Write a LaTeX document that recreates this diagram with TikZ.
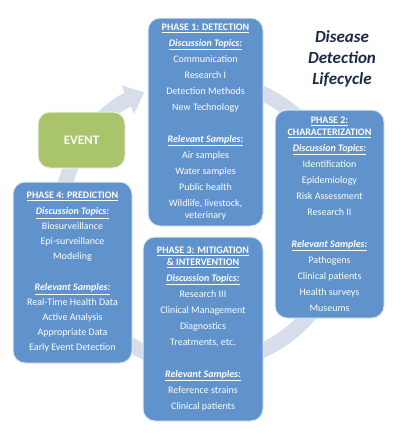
\documentclass[tikz,border=0pt]{standalone}
\usepackage{fontspec}
\setmainfont{Carlito}
\usetikzlibrary{
    positioning,
    arrows.meta
}
\definecolor{phaseblue}{RGB}{96,146,204}
\definecolor{eventgreen}{RGB}{169,196,106}
\definecolor{ringgrey}{RGB}{214,222,235}
\definecolor{titlenavy}{RGB}{28,42,72}
\tikzset{
    % Cycle arrow behind the boxes:
    cycle arrow/.style = {
        draw = ringgrey,
        line width = 15pt,
        -{Triangle[length=18pt, width=30pt]}
    },
    % Phase box:
    phase node/.style = {
        rectangle,
        rounded corners = 12pt,
        draw = white!80!phaseblue,
        line width = 1pt,
        fill = phaseblue,
        text = white,
        align = center,
        inner sep = 2pt,
        font = \fontsize{10}{12}\selectfont
    },
    % Starting event:
    event node/.style = {
        phase node,
        fill = eventgreen,
        draw = white!80!eventgreen,
        font = \fontsize{13}{15}\selectfont\bfseries
    },
    % Title:
    title node/.style = {
        align = center,
        text = titlenavy,
        font = \fontsize{17}{21}\selectfont\bfseries\itshape
    }
}
\newcommand{\hd}[1]{\underline{\textbf{#1}}}
\newcommand{\st}[1]{\underline{\textbf{\textit{#1}}}}

\begin{document}
\begin{tikzpicture}[x=1pt, y=1pt]
    \useasboundingbox (0, 0) rectangle (400, -439);
    % Ring behind everything.
    \coordinate (hub) at (202, -222);
    \draw [cycle arrow] ([shift={(80:142)}]hub) arc [start angle=80, end angle=-246, radius=142];
    \node [title node] (title) at (342, -59) {Disease\\Detection\\Lifecycle};
    \node [event node, minimum width=87pt, minimum height=56pt] (event) at (81.5, -140) {EVENT};
    \node [phase node, minimum width=115pt, minimum height=208pt] (detect) at (205.5, -122) {
        \hd{PHASE 1: DETECTION}\\[4pt]
        \st{Discussion Topics:}\\[4pt]
        Communication\\[4pt]
        Research I\\[4pt]
        Detection Methods\\[4pt]
        New Technology\\[20pt]
        \st{Relevant Samples:}\\[4pt]
        Air samples\\[4pt]
        Water samples\\[4pt]
        Public health\\[4pt]
        Wildlife, livestock,\\
        veterinary};
    \node [phase node, minimum width=109pt, minimum height=208pt] (charact) at (329.5, -214) {
        \hd{PHASE 2:}\\
        \hd{CHARACTERIZATION}\\[4pt]
        \st{Discussion Topics:}\\[4pt]
        Identification\\[4pt]
        Epidemiology\\[4pt]
        Risk Assessment\\[4pt]
        Research II\\[20pt]
        \st{Relevant Samples:}\\[4pt]
        Pathogens\\[4pt]
        Clinical patients\\[4pt]
        Health surveys\\[4pt]
        Museums};
    \node [phase node, minimum width=120pt, minimum height=184pt] (mitig) at (203, -329) {
        \hd{PHASE 3: MITIGATION}\\
        \hd{\& INTERVENTION}\\[4pt]
        \st{Discussion Topics:}\\[4pt]
        Research III\\[4pt]
        Clinical Management\\[4pt]
        Diagnostics\\[4pt]
        Treatments, etc.\\[20pt]
        \st{Relevant Samples:}\\[4pt]
        Reference strains\\[4pt]
        Clinical patients};
    \node [phase node, minimum width=119pt, minimum height=181pt] (predict) at (72.5, -272.5) {
        \hd{PHASE 4: PREDICTION}\\[4pt]
        \st{Discussion Topics:}\\[3pt]
        Biosurveillance\\[3pt]
        Epi-surveillance\\[3pt]
        Modeling\\[19pt]
        \st{Relevant Samples:}\\[3pt]
        Real-Time Health Data\\[3pt]
        Active Analysis\\[3pt]
        Appropriate Data\\[3pt]
        Early Event Detection};
\end{tikzpicture}
\end{document}
